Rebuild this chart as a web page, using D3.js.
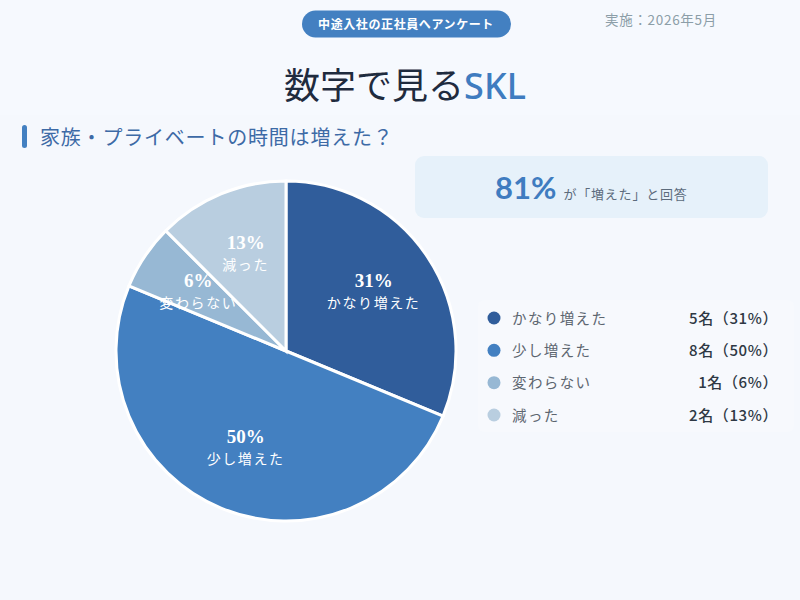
<!DOCTYPE html>
<html>
<head>
    <meta charset="utf-8">
    <title>数字で見るSKL</title>
    <script src="https://d3js.org/d3.v7.min.js"></script>
    <style>
        body { margin: 0; background: #f5f8fd; }
        svg { display: block; font-family: 'Noto Sans CJK JP', 'Noto Sans', sans-serif; }
    </style>
</head>
<body>
    <svg id="chart" width="800" height="600"></svg>

    <script>
        // data
        var categories = ["かなり増えた", "少し増えた", "変わらない", "減った"];
        var counts = [5, 8, 1, 2];
        var colors = ["#305d9b", "#4380c1", "#97b8d4", "#b9cee0"];
        var increasedShare = "81%";

        var total = d3.sum(counts);
        var pct = counts.map(function(c) { return Math.round(c / total * 100); });

        var svg = d3.select("#chart");

        // background panels
        svg.append("rect").attr("width", 800).attr("height", 600).attr("fill", "#f5f8fd");
        svg.append("rect").attr("x", 0).attr("y", 0).attr("width", 800).attr("height", 115)
            .attr("fill", "#f6f9fe");

        // header pill
        svg.append("rect").attr("x", 302).attr("y", 10.5).attr("width", 209).attr("height", 27)
            .attr("rx", 13.5).attr("fill", "#4380c1");
        svg.append("text").attr("x", 406).attr("y", 28.5).attr("text-anchor", "middle")
            .attr("fill", "#ffffff").attr("font-size", 12).attr("font-weight", "bold")
            .attr("letter-spacing", 0.6)
            .text("中途入社の正社員へアンケート");

        svg.append("text").attr("x", 605).attr("y", 25).attr("fill", "#8c9ea8")
            .attr("font-size", 13.5).attr("letter-spacing", 0.7).text("実施：2026年5月");

        // title
        var title = svg.append("text").attr("x", 405).attr("y", 99).attr("text-anchor", "middle")
            .attr("font-size", 36).attr("font-weight", 400);
        title.append("tspan").attr("fill", "#1f2b3e").text("数字で見る");
        title.append("tspan").attr("fill", "#3f7cc0").attr("font-family", "'Noto Sans', sans-serif")
            .attr("font-weight", 500).text("SKL");

        // section heading
        svg.append("rect").attr("x", 22).attr("y", 125).attr("width", 5).attr("height", 23)
            .attr("rx", 2.5).attr("fill", "#4380c1");
        svg.append("text").attr("x", 40).attr("y", 145).attr("fill", "#3d6aa6")
            .attr("font-size", 20).attr("letter-spacing", 0.8).text("家族・プライベートの時間は増えた？");

        // callout box
        svg.append("rect").attr("x", 415).attr("y", 156).attr("width", 353).attr("height", 62)
            .attr("rx", 9).attr("fill", "#e6f1fa");
        var call = svg.append("text").attr("x", 495).attr("y", 199);
        call.append("tspan").attr("fill", "#3f7cc0").attr("font-size", 31).attr("font-weight", "bold")
            .attr("font-family", "Lato, 'Noto Sans', sans-serif").text(increasedShare);
        call.append("tspan").attr("dx", 7).attr("fill", "#5c6b7c").attr("font-size", 13)
            .attr("letter-spacing", 0.8).text("が「増えた」と回答");

        // pie
        var cx = 286, cy = 351, R = 170;
        var pie = d3.pie().sort(null).value(function(d) { return d; });
        var arc = d3.arc().innerRadius(0).outerRadius(R);
        var labelArc = d3.arc().innerRadius(R * 0.62).outerRadius(R * 0.62);
        var arcs = pie(counts);

        var g = svg.append("g").attr("transform", "translate(" + cx + "," + cy + ")");
        g.selectAll("path").data(arcs).enter().append("path")
            .attr("d", arc)
            .attr("fill", function(d, i) { return colors[i]; })
            .attr("stroke", "#ffffff").attr("stroke-width", 3);

        var labels = g.selectAll("g.lbl").data(arcs).enter().append("g")
            .attr("class", "lbl")
            .attr("transform", function(d) { return "translate(" + labelArc.centroid(d) + ")"; });
        labels.append("text").attr("y", -5).attr("text-anchor", "middle")
            .attr("fill", "#ffffff").attr("font-family", "'Liberation Serif', serif")
            .attr("font-weight", "bold").attr("font-size", 19)
            .text(function(d, i) { return pct[i] + "%"; });
        labels.append("text").attr("y", 16).attr("text-anchor", "middle")
            .attr("fill", "#ffffff").attr("font-size", 14).attr("letter-spacing", 1.6)
            .text(function(d, i) { return categories[i]; });

        // legend
        svg.append("rect").attr("x", 478).attr("y", 300).attr("width", 316).attr("height", 132)
            .attr("rx", 6).attr("fill", "#f7f9fd");
        var ly = d3.scalePoint().domain(categories).range([318, 415]);
        var leg = svg.selectAll("g.leg").data(categories).enter().append("g")
            .attr("class", "leg")
            .attr("transform", function(d) { return "translate(0," + ly(d) + ")"; });
        leg.append("circle").attr("cx", 494).attr("r", 6.5)
            .attr("fill", function(d, i) { return colors[i]; });
        leg.append("text").attr("x", 512).attr("y", 5.5).attr("fill", "#5d6670")
            .attr("font-size", 14.5).attr("letter-spacing", 1.4).text(function(d) { return d; });
        leg.append("text").attr("x", 778).attr("y", 5.5).attr("text-anchor", "end")
            .attr("fill", "#2e3844").attr("font-size", 15).attr("font-weight", 500)
            .attr("letter-spacing", 0.6)
            .text(function(d, i) { return counts[i] + "名（" + pct[i] + "%）"; });
    </script>
</body>
</html>
